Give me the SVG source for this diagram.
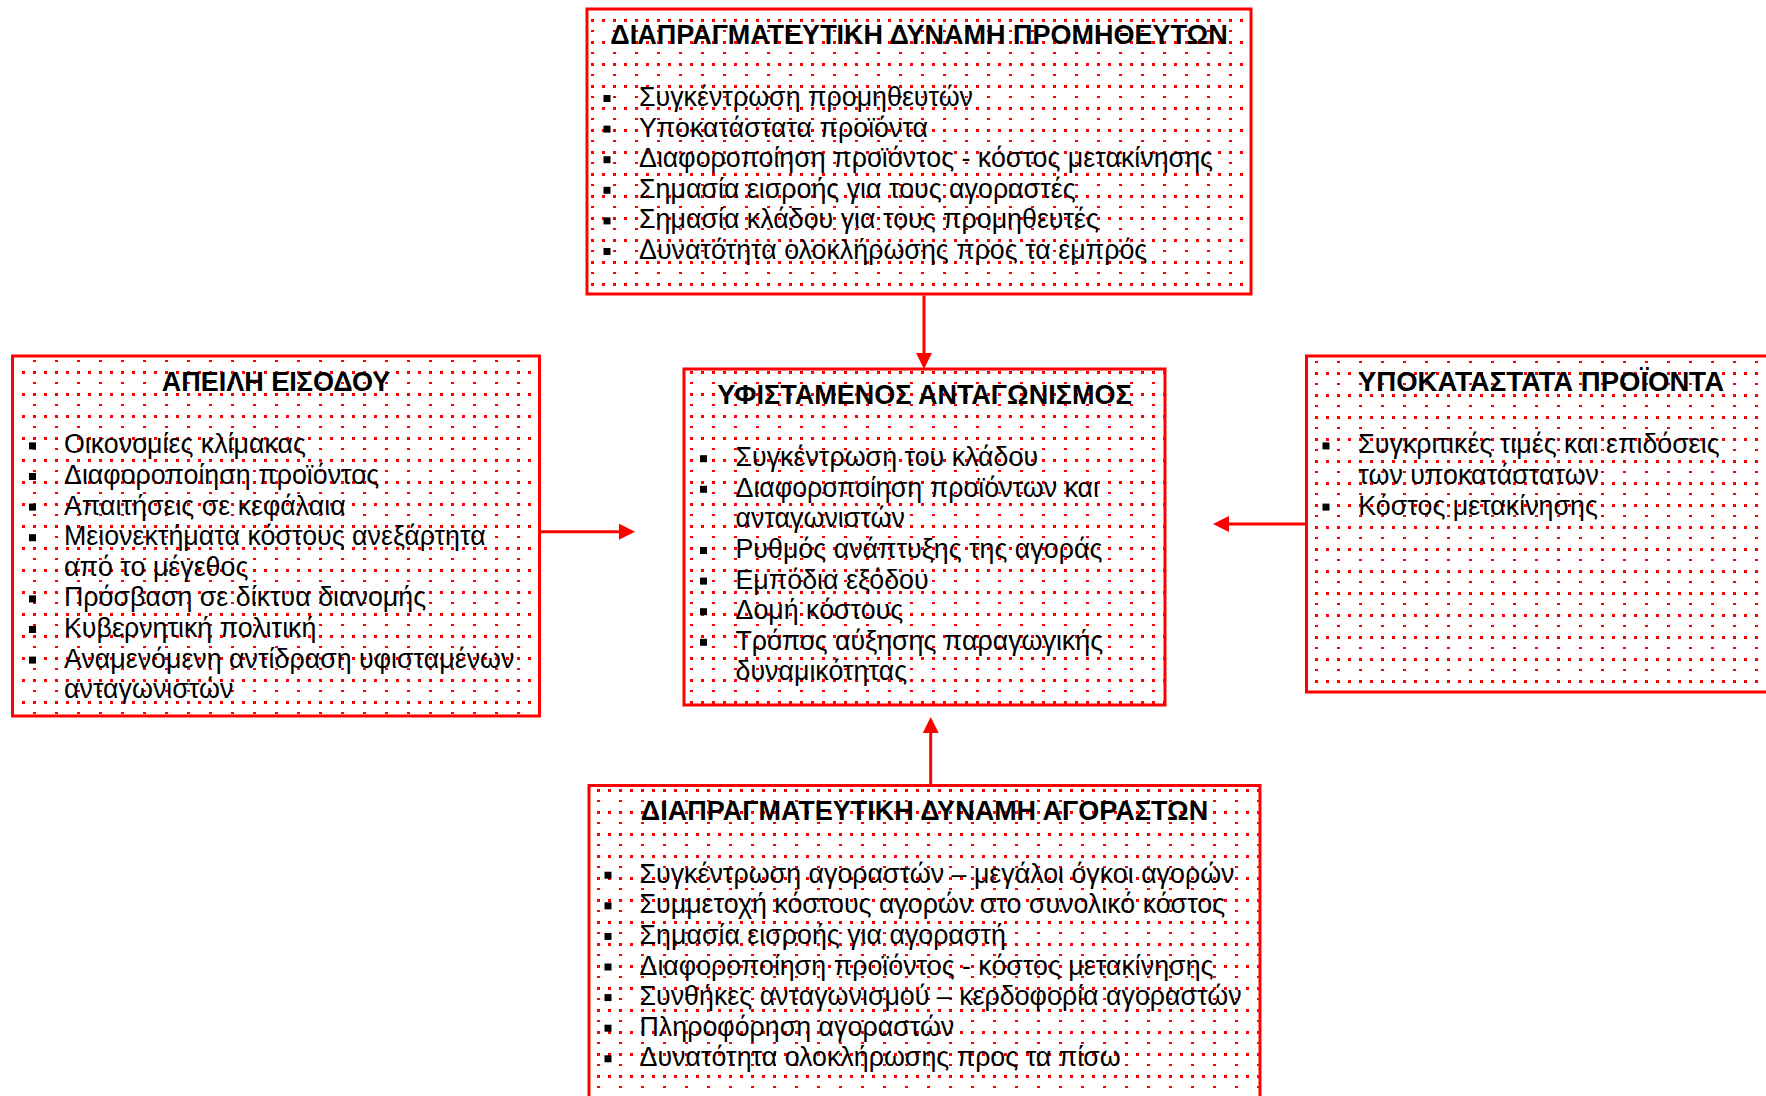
<svg xmlns="http://www.w3.org/2000/svg" width="1766" height="1096" viewBox="0 0 1766 1096">
  <style>
    text { font-family: "Liberation Sans", Arial, sans-serif; font-size: 26.8px; fill: #000; }
    .title { font-weight: bold; text-anchor: middle; font-size: 27px; }
    .frame { stroke: #ff0000; stroke-width: 3; }
    .link { stroke: #ff0000; stroke-width: 3; fill: none; marker-end: url(#head); }
    .dot { fill: #ff0000; }
  </style>
  <defs>
    <marker id="head" viewBox="0 0 16 16" refX="0" refY="8" markerWidth="16" markerHeight="16" markerUnits="userSpaceOnUse" orient="auto">
      <path d="M0,0 L16,8 L0,16 z" fill="#ff0000"/>
    </marker>
    <!-- dotted-grid tile: full row of dots, then a half row -->
    <g id="tile">
      <rect class="dot" x="0" y="0" width="3" height="3"/>
      <rect class="dot" x="11" y="0" width="3" height="3"/>
      <rect class="dot" x="0" y="11" width="3" height="2"/>
    </g>
    <pattern id="dotsTop" patternUnits="userSpaceOnUse" x="591" y="19" width="22" height="22"><use href="#tile"/></pattern>
    <pattern id="dotsLeft" patternUnits="userSpaceOnUse" x="517" y="503" width="22" height="22"><use href="#tile"/></pattern>
    <pattern id="dotsCenter" patternUnits="userSpaceOnUse" x="888" y="371" width="22" height="22"><use href="#tile"/></pattern>
    <pattern id="dotsRight" patternUnits="userSpaceOnUse" x="1315" y="482" width="22" height="22"><use href="#tile"/></pattern>
    <pattern id="dotsBottom" patternUnits="userSpaceOnUse" x="883" y="789" width="22" height="22"><use href="#tile"/></pattern>
    <rect id="bullet" width="7" height="7" fill="#000"/>
  </defs>

  <rect width="1766" height="1096" fill="#fff"/>

  <!-- bargaining power of suppliers -->
  <g id="suppliers">
    <rect class="frame" x="587" y="9" width="664" height="285" fill="url(#dotsTop)"/>
    <text class="title" x="919" y="43.5">ΔΙΑΠΡΑΓΜΑΤΕΥΤΙΚΗ ΔΥΝΑΜΗ ΠΡΟΜΗΘΕΥΤΩΝ</text>
    <use href="#bullet" x="603.5" y="95"/>
    <use href="#bullet" x="603.5" y="125.6"/>
    <use href="#bullet" x="603.5" y="156.2"/>
    <use href="#bullet" x="603.5" y="186.8"/>
    <use href="#bullet" x="603.5" y="217.4"/>
    <use href="#bullet" x="603.5" y="248"/>
    <text x="639" y="106">Συγκέντρωση προμηθευτών</text>
    <text x="639" y="136.6">Υποκατάστατα προϊόντα</text>
    <text x="639" y="167.2">Διαφοροποίηση προϊόντος - κόστος μετακίνησης</text>
    <text x="639" y="197.8">Σημασία εισροής για τους αγοραστές</text>
    <text x="639" y="228.4">Σημασία κλάδου για τους προμηθευτές</text>
    <text x="639" y="259">Δυνατότητα ολοκλήρωσης προς τα εμπρός</text>
  </g>

  <!-- threat of entry -->
  <g id="entry">
    <rect class="frame" x="12.5" y="356" width="527" height="360" fill="url(#dotsLeft)"/>
    <text class="title" x="276" y="390.5">ΑΠΕΙΛΗ ΕΙΣΟΔΟΥ</text>
    <use href="#bullet" x="29" y="442.4"/>
    <use href="#bullet" x="29" y="473"/>
    <use href="#bullet" x="29" y="503.6"/>
    <use href="#bullet" x="29" y="534.2"/>
    <use href="#bullet" x="29" y="595.4"/>
    <use href="#bullet" x="29" y="626"/>
    <use href="#bullet" x="29" y="656.6"/>
    <text x="64" y="453.4">Οικονομίες κλίμακας</text>
    <text x="64" y="484">Διαφοροποίηση προϊόντος</text>
    <text x="64" y="514.6">Απαιτήσεις σε κεφάλαια</text>
    <text x="64" y="545.2">Μειονεκτήματα κόστους ανεξάρτητα</text>
    <text x="64" y="575.8">από το μέγεθος</text>
    <text x="64" y="606.4">Πρόσβαση σε δίκτυα διανομής</text>
    <text x="64" y="637">Κυβερνητική πολιτική</text>
    <text x="64" y="667.6">Αναμενόμενη αντίδραση υφισταμένων</text>
    <text x="64" y="698.2">ανταγωνιστών</text>
  </g>

  <!-- existing rivalry -->
  <g id="rivalry">
    <rect class="frame" x="684" y="369" width="481" height="336" fill="url(#dotsCenter)"/>
    <text class="title" x="924.5" y="403.5">ΥΦΙΣΤΑΜΕΝΟΣ ΑΝΤΑΓΩΝΙΣΜΟΣ</text>
    <use href="#bullet" x="700" y="455.2"/>
    <use href="#bullet" x="700" y="485.8"/>
    <use href="#bullet" x="700" y="547"/>
    <use href="#bullet" x="700" y="577.6"/>
    <use href="#bullet" x="700" y="608.2"/>
    <use href="#bullet" x="700" y="638.8"/>
    <text x="735.5" y="466.2">Συγκέντρωση του κλάδου</text>
    <text x="735.5" y="496.8">Διαφοροποίηση προϊόντων και</text>
    <text x="735.5" y="527.4">ανταγωνιστών</text>
    <text x="735.5" y="558">Ρυθμός ανάπτυξης της αγοράς</text>
    <text x="735.5" y="588.6">Εμπόδια εξόδου</text>
    <text x="735.5" y="619.2">Δομή κόστους</text>
    <text x="735.5" y="649.8">Τρόπος αύξησης παραγωγικής</text>
    <text x="735.5" y="680.4">δυναμικότητας</text>
  </g>

  <!-- substitute products -->
  <g id="substitutes">
    <rect class="frame" x="1306.5" y="356" width="469" height="336" fill="url(#dotsRight)"/>
    <text class="title" x="1541" y="390.5" textLength="366" lengthAdjust="spacingAndGlyphs">ΥΠΟΚΑΤΑΣΤΑΤΑ ΠΡΟΪΟΝΤΑ</text>
    <use href="#bullet" x="1322.5" y="442.4"/>
    <use href="#bullet" x="1322.5" y="503.6"/>
    <text x="1358.3" y="453.4">Συγκριτικές τιμές και επιδόσεις</text>
    <text x="1358.3" y="484">των υποκατάστατων</text>
    <text x="1358.3" y="514.6">Κόστος μετακίνησης</text>
  </g>

  <!-- bargaining power of buyers -->
  <g id="buyers">
    <rect class="frame" x="589" y="785.5" width="671" height="340" fill="url(#dotsBottom)"/>
    <text class="title" x="924.5" y="820">ΔΙΑΠΡΑΓΜΑΤΕΥΤΙΚΗ ΔΥΝΑΜΗ ΑΓΟΡΑΣΤΩΝ</text>
    <use href="#bullet" x="604.5" y="871.7"/>
    <use href="#bullet" x="604.5" y="902.3"/>
    <use href="#bullet" x="604.5" y="932.9"/>
    <use href="#bullet" x="604.5" y="963.5"/>
    <use href="#bullet" x="604.5" y="994.1"/>
    <use href="#bullet" x="604.5" y="1024.7"/>
    <use href="#bullet" x="604.5" y="1055.3"/>
    <text x="639.5" y="882.7">Συγκέντρωση αγοραστών – μεγάλοι όγκοι αγορών</text>
    <text x="639.5" y="913.3">Συμμετοχή κόστους αγορών στο συνολικό κόστος</text>
    <text x="639.5" y="943.9">Σημασία εισροής για αγοραστή</text>
    <text x="639.5" y="974.5">Διαφοροποίηση προϊόντος - κόστος μετακίνησης</text>
    <text x="639.5" y="1005.1">Συνθήκες ανταγωνισμού – κερδοφορία αγοραστών</text>
    <text x="639.5" y="1035.7">Πληροφόρηση αγοραστών</text>
    <text x="639.5" y="1066.3">Δυνατότητα ολοκλήρωσης προς τα πίσω</text>
  </g>

  <!-- forces acting on the rivalry box -->
  <g id="connectors">
    <path class="link" d="M924,295.5 V353"/>
    <path class="link" d="M541,531.7 H619"/>
    <path class="link" d="M1305,524 H1229"/>
    <path class="link" d="M930.7,784 V733"/>
  </g>
</svg>
